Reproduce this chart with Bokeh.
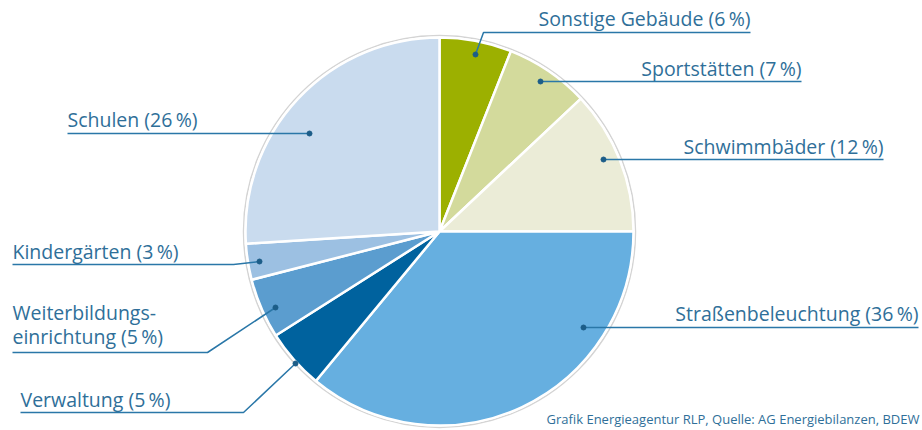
import math
from bokeh.plotting import figure
from bokeh.models import Range1d, ColumnDataSource
from bokeh.core.properties import value
from bokeh.embed import file_html
from bokeh.resources import INLINE

# ---------------- data ----------------
categories = ["Sonstige Gebäude", "Sportstätten", "Schwimmbäder", "Straßenbeleuchtung",
              "Verwaltung", "Weiterbildungs-\neinrichtung", "Kindergärten", "Schulen"]
shares = [6, 7, 12, 36, 5, 5, 3, 26]
source_note = "Grafik Energieagentur RLP, Quelle: AG Energiebilanzen, BDEW"

# ---------------- style / layout ----------------
colors = ["#9cb000", "#d3da9c", "#ebecd7", "#66afe0",
          "#00629e", "#5b9dcf", "#9cc0e2", "#c9dbee"]
W, H = 922, 430
BASE_FIX = 7  # compensation for text baseline placement

def X(rx):
    return rx

def Y(ry):
    return H - ry

CX, CY, R = 439, 231, 194  # pie centre / radius in reference pixels

# label layout (reference pixels): text anchor x, baseline y, align, leader polyline (ends at dot)
label_layout = [
    dict(x=750, y=25, align="right", path=[(750, 32), (483, 32), (475, 54)]),
    dict(x=801, y=75, align="right", path=[(801, 81), (540, 81)]),
    dict(x=883, y=153, align="right", path=[(883, 159), (603, 159)]),
    dict(x=918, y=320, align="right", path=[(918, 327), (583, 327)]),
    dict(x=20, y=406, align="left", path=[(20, 412), (243, 412), (295, 363)]),
    dict(x=12, y=319, align="left", path=[(12, 352), (207, 352), (275, 307)], line2=343),
    dict(x=12, y=258, align="left", path=[(12, 264), (233, 264), (259, 261)]),
    dict(x=67, y=126, align="left", path=[(67, 133), (309, 133), (309, 133)]),
]

TEXT_COLOR = "#2f6f99"
LINE_COLOR = "#2a77a8"
DOT_COLOR = "#1c5d88"
FONT = "Open Sans"
FSIZE = "19.5px"

p = figure(width=W, height=H, output_backend="svg", toolbar_location=None,
           x_range=Range1d(0, W), y_range=Range1d(0, H),
           x_axis_type=None, y_axis_type=None, min_border=0,
           outline_line_color=None, background_fill_color="white",
           border_fill_color="white")
p.grid.visible = False

# outer light ring
p.circle(x=[X(CX)], y=[Y(CY)], radius=R + 2, fill_color="white",
         line_color="#d4d4d4", line_width=1.5)

# wedges (clockwise from 12 o'clock)
total = float(sum(shares))
starts, ends = [], []
cum = 0.0
for s in shares:
    a0 = math.pi / 2 - 2 * math.pi * cum / total
    cum += s
    a1 = math.pi / 2 - 2 * math.pi * cum / total
    starts.append(a0)
    ends.append(a1)

src = ColumnDataSource(dict(x=[X(CX)] * len(shares), y=[Y(CY)] * len(shares),
                            start=starts, end=ends, color=colors))
p.wedge(x="x", y="y", radius=R, start_angle="start", end_angle="end",
        direction="clock", fill_color="color", line_color="white",
        line_width=2.5, source=src)


def put_text(x, y, txt, size=FSIZE, align="left"):
    p.text([X(x)], [Y(y - BASE_FIX)], text=[txt], text_font=value(FONT),
           text_font_size=size, text_color=TEXT_COLOR, text_align=align,
           text_baseline="alphabetic")


# labels
for cat, s, lay in zip(categories, shares, label_layout):
    label = f"{cat} ({s}\u2009%)"
    xs = [X(px) for px, py in lay["path"]]
    ys = [Y(py) for px, py in lay["path"]]
    p.line(xs, ys, line_color=LINE_COLOR, line_width=1.5)
    p.scatter([xs[-1]], [ys[-1]], size=5, color=DOT_COLOR)
    if "line2" in lay:
        first, second = label.split("\n")
        put_text(lay["x"], lay["y"], first, align=lay["align"])
        put_text(lay["x"], lay["line2"], second, align=lay["align"])
    else:
        put_text(lay["x"], lay["y"], label, align=lay["align"])

# source note
put_text(919, 425, source_note, size="13px", align="right")

open("out.html", "w").write(file_html(p, INLINE))
